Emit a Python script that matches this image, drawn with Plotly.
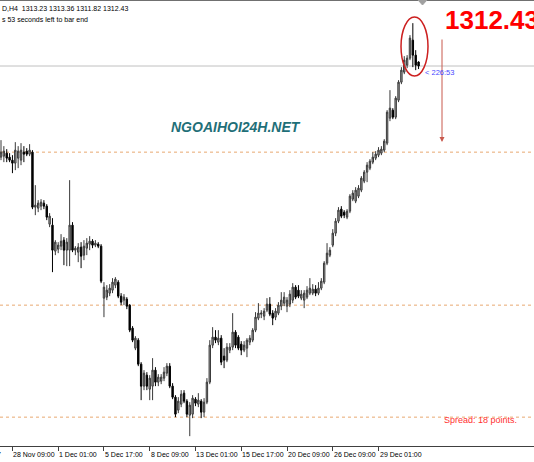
import plotly.graph_objects as go

# ---- data (XAUUSD H4) ----
bar_open = [1294.2,1294.4,1295.0,1294.2,1293.6,1293.0,1294.0,1293.6,1295.2,1295.4,
            1294.8,1295.2,1284.2,1284.0,1284.4,1285.0,1284.4,1280.8,1280.6,1275.4,
            1275.8,1276.4,1277.6,1275.6,1275.6,1280.6,1275.6,1275.2,1276.2,1274.6,
            1276.0,1276.8,1277.4,1276.6,1276.8,1276.4,1266.0,1266.2,1267.0,1267.6,
            1268.6,1269.2,1266.4,1265.6,1265.8,1264.6,1260.0,1256.0,1257.6,1252.8,
            1248.4,1250.6,1247.8,1248.4,1251.6,1249.2,1249.4,1250.0,1251.0,1252.4,
            1248.4,1246.2,1243.6,1244.8,1247.0,1245.4,1242.6,1242.8,1245.8,1244.8,
            1245.4,1243.2,1245.2,1249.2,1256.6,1258.2,1257.2,1258.0,1254.4,1253.6,
            1255.6,1256.2,1259.2,1258.2,1256.8,1255.6,1256.0,1257.2,1257.6,1259.6,
            1262.0,1262.8,1262.4,1263.6,1264.8,1263.0,1262.2,1263.0,1264.4,1265.0,
            1264.4,1264.8,1265.6,1268.2,1267.6,1266.0,1265.6,1266.2,1267.0,1267.0,
            1267.8,1267.0,1268.0,1269.2,1273.0,1274.6,1276.6,1279.0,1281.4,1283.8,
            1283.2,1282.2,1283.4,1285.8,1285.4,1286.4,1287.6,1289.4,1291.2,1292.0,
            1293.2,1294.0,1294.6,1295.0,1295.6,1297.0,1302.0,1303.6,1302.2,1305.6,
            1309.2,1311.2,1312.6,1314.0,1317.6,1314.6,1313.23]
bar_high = [1297.6,1296.4,1295.8,1295.0,1294.6,1297.2,1296.4,1297.0,1296.4,1296.0,
            1296.8,1295.6,1288.6,1285.6,1285.8,1285.6,1284.8,1283.0,1282.0,1277.6,
            1277.2,1278.8,1278.2,1278.0,1289.6,1281.2,1276.4,1277.0,1277.2,1277.6,
            1278.0,1278.4,1277.8,1277.6,1277.2,1276.8,1269.2,1268.6,1268.8,1270.0,
            1270.2,1269.6,1267.0,1266.8,1266.2,1264.8,1260.4,1258.4,1258.0,1253.2,
            1251.6,1251.2,1250.6,1254.0,1252.2,1250.8,1250.8,1252.2,1253.0,1253.0,
            1249.0,1246.6,1246.2,1247.6,1247.6,1245.8,1245.2,1246.6,1246.2,1247.0,
            1245.8,1246.0,1250.0,1257.6,1260.2,1259.6,1259.6,1258.6,1256.0,1257.0,
            1257.0,1263.0,1259.6,1258.6,1257.4,1257.4,1258.0,1258.6,1260.0,1263.2,
            1265.0,1263.6,1264.0,1266.0,1266.2,1263.6,1264.0,1265.2,1267.2,1267.2,
            1266.2,1267.6,1269.0,1268.6,1268.6,1267.6,1267.6,1268.4,1270.0,1268.8,
            1268.6,1269.2,1270.0,1273.4,1277.0,1276.2,1279.8,1282.0,1284.2,1284.4,
            1283.6,1283.8,1286.8,1287.6,1288.2,1288.6,1290.4,1291.6,1293.2,1293.8,
            1295.2,1295.4,1296.2,1296.4,1297.8,1303.6,1307.6,1304.0,1306.4,1309.6,
            1312.2,1314.4,1314.6,1318.6,1321.0,1315.6,1313.36]
bar_low = [1293.6,1293.2,1293.2,1293.2,1291.0,1291.6,1292.0,1292.6,1293.2,1294.4,
           1294.4,1283.8,1282.6,1283.2,1283.6,1283.8,1281.6,1280.2,1271.2,1274.6,
           1275.0,1275.6,1272.6,1272.4,1272.4,1275.2,1274.6,1273.2,1272.0,1273.6,
           1274.6,1275.6,1276.0,1276.2,1276.0,1269.0,1262.2,1265.6,1266.4,1267.0,
           1268.0,1266.0,1264.6,1264.6,1263.8,1259.2,1257.2,1255.6,1252.4,1245.6,
           1247.6,1247.6,1245.6,1245.6,1248.4,1248.4,1248.8,1249.4,1250.4,1248.0,
           1245.8,1242.2,1243.0,1244.2,1245.0,1242.2,1238.4,1242.0,1244.4,1244.2,
           1242.0,1242.2,1244.8,1248.8,1256.0,1257.0,1256.6,1252.6,1252.0,1253.2,
           1255.0,1255.6,1256.0,1255.6,1254.6,1255.2,1254.2,1256.6,1257.2,1259.2,
           1261.6,1262.0,1261.6,1263.2,1262.4,1260.6,1261.6,1262.6,1263.6,1264.4,
           1263.2,1264.2,1265.0,1265.8,1266.0,1265.6,1264.0,1265.8,1266.6,1266.6,
           1266.4,1266.6,1267.6,1268.8,1272.6,1274.2,1276.2,1278.4,1281.0,1282.0,
           1282.0,1281.8,1283.0,1285.4,1285.0,1286.0,1287.2,1289.0,1289.2,1291.6,
           1292.8,1293.6,1294.2,1294.6,1295.2,1296.6,1301.4,1301.8,1301.8,1305.2,
           1308.8,1310.8,1312.0,1313.6,1312.2,1311.6,1311.82]
bar_close = [1295.2,1295.4,1294.0,1293.6,1293.0,1295.6,1295.4,1295.6,1294.8,1294.8,
             1295.6,1284.2,1284.6,1285.0,1285.2,1284.4,1282.2,1282.4,1275.6,1277.2,
             1276.6,1277.4,1275.6,1277.2,1280.6,1275.6,1276.0,1276.2,1274.4,1276.4,
             1277.0,1277.4,1276.6,1277.0,1276.4,1269.4,1268.2,1267.6,1268.0,1269.2,
             1269.8,1266.4,1265.2,1266.2,1264.4,1259.6,1257.6,1258.0,1252.8,1248.4,
             1251.0,1248.4,1250.0,1251.6,1249.2,1250.2,1250.2,1251.2,1252.4,1248.4,
             1246.2,1242.8,1245.4,1246.8,1245.4,1242.8,1244.6,1246.0,1245.0,1245.6,
             1243.2,1245.2,1249.2,1256.6,1258.2,1257.6,1258.0,1253.2,1253.6,1256.2,
             1256.2,1259.2,1256.6,1256.0,1255.6,1256.6,1257.6,1258.0,1259.6,1262.2,
             1263.0,1263.0,1263.4,1264.8,1262.8,1262.0,1263.4,1264.6,1265.6,1266.2,
             1265.6,1266.8,1268.2,1266.2,1266.4,1266.8,1267.0,1267.6,1268.0,1267.8,
             1267.0,1268.0,1269.4,1273.0,1275.0,1275.6,1279.0,1281.4,1283.6,1282.4,
             1282.6,1283.4,1286.4,1287.0,1287.6,1288.0,1290.0,1291.2,1292.6,1293.4,
             1294.2,1294.8,1295.6,1295.8,1297.4,1303.2,1304.0,1302.2,1306.0,1309.2,
             1311.6,1313.6,1314.0,1318.0,1314.6,1312.6,1312.43]

tick_bars = [4, 20, 36, 52, 68, 84, 100, 116, 132]
tick_labels = ["28 Nov 09:00", "1 Dec 01:00", "5 Dec 17:00", "8 Dec 09:00",
               "13 Dec 01:00", "15 Dec 17:00", "20 Dec 09:00", "26 Dec 09:00",
               "29 Dec 01:00"]
level_lines = [1295.2, 1264.6, 1242.2]
bid_price = 1312.43
header_text = "D,H4  1313.23 1313.36 1311.82 1312.43"
timer_text = "s 53 seconds left to bar end"

W, H = 534, 462
PLOT_H = 446
Y_TOP = 1325.63
Y_BOT = Y_TOP - PLOT_H / 5.0
X_LO = -1 / 2.86
X_HI = X_LO + W / 2.86


def px(x):
    return x / W


def py(y):
    return 1 - y / PLOT_H


bars = list(range(len(bar_open)))

fig = go.Figure()
fig.add_trace(go.Candlestick(
    x=bars, open=bar_open, high=bar_high, low=bar_low, close=bar_close,
    increasing=dict(line=dict(color="#383838", width=1), fillcolor="#a8a8a8"),
    decreasing=dict(line=dict(color="#000000", width=1), fillcolor="#000000"),
    whiskerwidth=0, showlegend=False, hoverinfo="skip",
))

shapes = []
for lv in level_lines:
    shapes.append(dict(type="line", xref="paper", yref="y", x0=0, x1=1, y0=lv, y1=lv,
                       line=dict(color="#e8a870", width=1, dash="dot"), layer="below"))
shapes.append(dict(type="line", xref="paper", yref="y", x0=0, x1=1, y0=bid_price, y1=bid_price,
                   line=dict(color="#c0c0c0", width=1), layer="below"))
# top border
shapes.append(dict(type="line", xref="paper", yref="paper", x0=0, x1=1, y0=py(0.5), y1=py(0.5),
                   line=dict(color="#707070", width=1)))
# chart-shift triangle
shapes.append(dict(type="path", xref="paper", yref="paper",
                   path=f"M {px(418)} {py(0)} L {px(427)} {py(0)} L {px(422.5)} {py(5)} Z",
                   fillcolor="#a0a0a0", line=dict(color="#a0a0a0", width=1)))
# red ellipse
shapes.append(dict(type="circle", xref="paper", yref="paper",
                   x0=px(401), x1=px(428), y0=py(76), y1=py(17),
                   line=dict(color="#cc1f1f", width=1.5)))

ann = []
for b, t in zip(tick_bars, tick_labels):
    ann.append(dict(x=b, y=0, xref="x", yref="paper", text=t, showarrow=False,
                    xanchor="left", yanchor="top", xshift=-1, yshift=-3,
                    font=dict(family="Liberation Sans, Arial", size=7, color="#000000")))
ann.append(dict(x=0, y=0, xref="paper", yref="paper", text="7", showarrow=False,
                xanchor="right", yanchor="top", xshift=3, yshift=-3,
                font=dict(family="Liberation Sans, Arial", size=7, color="#000000")))
ann.append(dict(x=0, y=py(8), xref="paper", yref="paper", text=header_text, showarrow=False,
                xanchor="left", yanchor="middle",
                font=dict(family="Liberation Sans, Arial", size=7, color="#000000")))
ann.append(dict(x=0, y=py(19), xref="paper", yref="paper", text=timer_text, showarrow=False,
                xanchor="left", yanchor="middle",
                font=dict(family="Liberation Sans, Arial", size=7, color="#000000")))
ann.append(dict(x=px(443), y=py(20), xref="paper", yref="paper", text="<b>1312.43</b>",
                showarrow=False, xanchor="left", yanchor="middle",
                font=dict(family="Liberation Sans, Arial", size=26, color="#ff0000")))
ann.append(dict(x=px(442), y=py(142), xref="paper", yref="paper", text="", showarrow=True,
                ax=0, ay=-104, arrowhead=2, arrowsize=1, arrowwidth=1, arrowcolor="#c8584c"))
ann.append(dict(x=px(423), y=py(72), xref="paper", yref="paper", text="< 226:53",
                showarrow=False, xanchor="left", yanchor="middle",
                font=dict(family="Liberation Sans, Arial", size=7.5, color="#4848ff")))
ann.append(dict(x=px(236), y=py(127), xref="paper", yref="paper", text="<b><i>NGOAIHOI24H.NET</i></b>",
                showarrow=False, xanchor="center", yanchor="middle",
                font=dict(family="Liberation Sans, Arial", size=14, color="#1f6f78")))
ann.append(dict(x=px(442), y=py(420), xref="paper", yref="paper", text="Spread: 18 points.",
                showarrow=False, xanchor="left", yanchor="middle",
                font=dict(family="Liberation Sans, Arial", size=9, color="#ff3030")))

fig.update_layout(
    width=W, height=H,
    margin=dict(l=0, r=0, t=0, b=H - PLOT_H),
    paper_bgcolor="#ffffff", plot_bgcolor="#ffffff",
    shapes=shapes, annotations=ann,
    xaxis=dict(range=[X_LO, X_HI], rangeslider=dict(visible=False), showgrid=False,
               zeroline=False, showline=True, linecolor="#404040", linewidth=1,
               tickvals=tick_bars, ticktext=[""] * len(tick_bars), ticks="outside",
               ticklen=4, tickcolor="#404040", showticklabels=False, fixedrange=True),
    yaxis=dict(range=[Y_BOT, Y_TOP], showgrid=False, zeroline=False, showticklabels=False,
               showline=False, ticks="", fixedrange=True),
    showlegend=False,
)

fig.write_html("out.html", config={"staticPlot": True},
               post_script="document.body.style.margin='0px';document.body.style.overflow='hidden';")
